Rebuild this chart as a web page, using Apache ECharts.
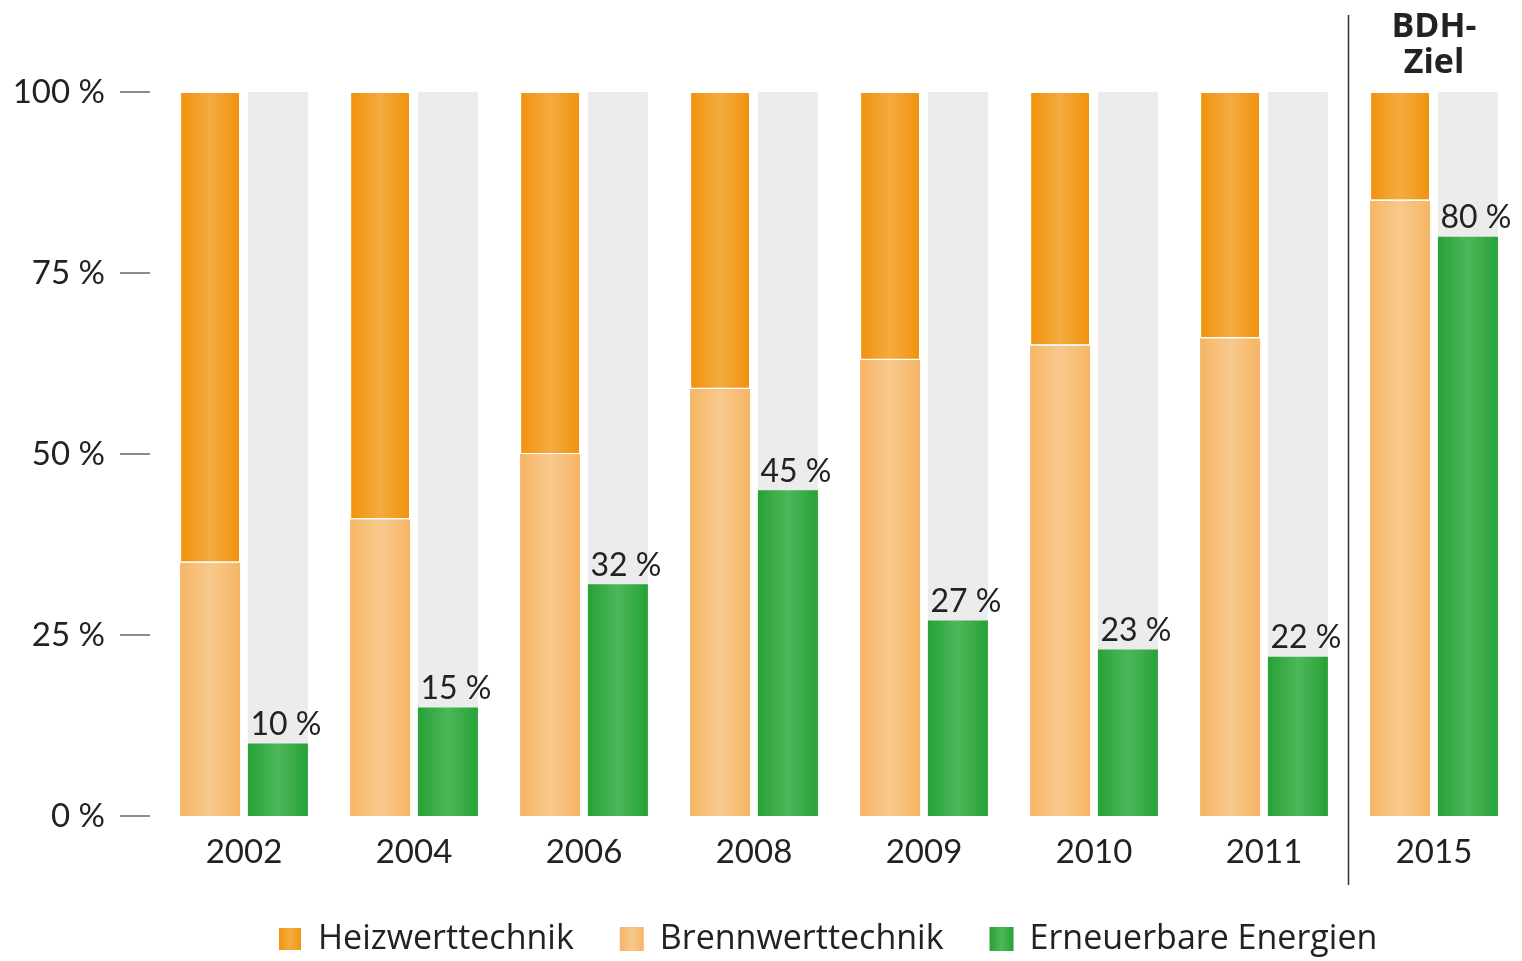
<!DOCTYPE html>
<html><head><meta charset="utf-8">
<script src="https://cdn.jsdelivr.net/npm/echarts@6/dist/echarts.min.js"></script>
<style>html,body{margin:0;padding:0;background:#fff}#c{width:1522px;height:961px}</style>
</head><body><div id="c"></div>
<script>
const categories = ['2002','2004','2006','2008','2009','2010','2011','2015'];
const brennwert = [35, 41, 50, 59, 63, 65, 66, 85];
const heizwert = [65, 59, 50, 41, 37, 35, 34, 15];
const erneuerbar = [10, 15, 32, 45, 27, 23, 22, 80];
const yTicks = [0, 25, 50, 75, 100];
const targetTitle = 'BDH-\nZiel';

function grad(edge, mid) {
  return new echarts.graphic.LinearGradient(0, 0, 1, 0, [
    {offset: 0, color: edge}, {offset: 0.5, color: mid}, {offset: 1, color: edge}
  ]);
}
const font = 'Lato, "Open Sans", sans-serif';
const chart = echarts.init(document.getElementById('c'));
chart.setOption({
  animation: false,
  grid: {left: 159, right: 3, top: 92, bottom: 145},
  legend: {
    bottom: 0, left: 272, itemWidth: 24, itemHeight: 24, itemGap: 46,
    icon: 'rect',
    textStyle: {fontSize: 34, color: '#222', fontFamily: '"Open Sans", sans-serif', padding: [0,0,0,11]},
    data: ['Heizwerttechnik', 'Brennwerttechnik', 'Erneuerbare Energien']
  },
  xAxis: {
    type: 'category', data: categories,
    axisLine: {show: false}, axisTick: {show: false},
    axisLabel: {fontSize: 33, color: '#222', fontFamily: font, margin: 20}
  },
  yAxis: {
    type: 'value', min: 0, max: 100, interval: 25, offset: 9,
    splitLine: {show: false},
    axisLine: {show: false},
    axisTick: {show: true, length: 30, lineStyle: {color: '#666', width: 1.5}},
    axisLabel: {fontSize: 33, color: '#222', fontFamily: font, margin: 45,
      formatter: v => yTicks.includes(v) ? v + ' %' : ''}
  },
  series: [
    {name: 'Brennwerttechnik', type: 'bar', stack: 'o', data: brennwert,
     barWidth: 60, barGap: '13%',
     color: '#f5b565',
     itemStyle: {color: grad('#f5b565', '#f8c98d')}},
    {name: 'Heizwerttechnik', type: 'bar', stack: 'o', data: heizwert,
     barWidth: 60,
     color: '#f0920c',
     itemStyle: {color: grad('#f0920c', '#f4ab40'), borderColor: '#fff', borderWidth: 1}},
    {name: 'Erneuerbare Energien', type: 'bar', data: erneuerbar,
     barWidth: 60, barGap: '13%',
     color: '#26a236',
     showBackground: true, backgroundStyle: {color: '#ececec'},
     itemStyle: {color: grad('#26a236', '#4db75a')},
     label: {show: true, position: 'top', offset: [8, 2], formatter: '{c} %',
       fontSize: 32, color: '#222', fontFamily: font}}
  ]
});
function addDecor() {
  const a = chart.convertToPixel({xAxisIndex: 0}, categories[6]);
  const b = chart.convertToPixel({xAxisIndex: 0}, categories[7]);
  const sx = Math.round((a + b) / 2) - 0.5;
  chart.setOption({graphic: [
    {type: 'line', shape: {x1: sx, y1: 15, x2: sx, y2: 885}, style: {stroke: '#333', lineWidth: 1.5}},
    {type: 'text', x: b, y: 9, style: {text: targetTitle, fontSize: 34, fontWeight: 'bold',
      fill: '#222', align: 'center', fontFamily: '"Open Sans", sans-serif', lineHeight: 36}}
  ]});
}
addDecor();
</script></body></html>
